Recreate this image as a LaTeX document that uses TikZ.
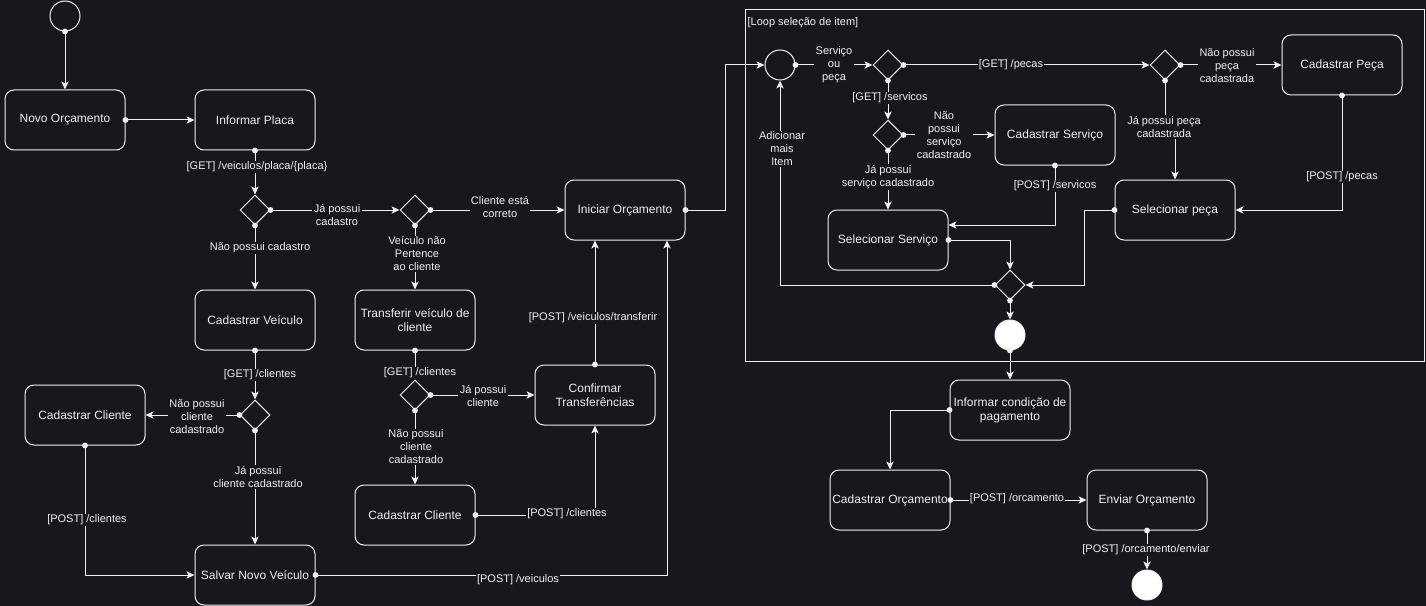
\documentclass[tikz,border=0pt]{standalone}
\usepackage{fontspec}
\setmainfont{Liberation Sans}
\usetikzlibrary{shapes.geometric,arrows.meta,calc}
\definecolor{bg}{RGB}{24,23,29}
\definecolor{fg}{RGB}{240,240,240}
\begin{document}
\begin{tikzpicture}[x=0.75pt,y=-0.75pt,
 box/.style={draw=fg, line width=0.75pt, rounded corners=6.75pt, minimum width=90pt, minimum height=45pt, align=center, text=fg, font=\fontsize{9}{10.5}\selectfont, inner sep=1pt, fill=bg},
 dec/.style={diamond, draw=fg, line width=0.75pt, minimum width=22.5pt, minimum height=22.5pt, inner sep=0pt, fill=bg},
 startc/.style={circle, draw=fg, line width=0.75pt, minimum size=22.5pt, inner sep=0pt, fill=bg},
 endc/.style={circle, draw=fg, line width=0.75pt, fill=white, minimum size=22.5pt, inner sep=0pt},
 lbl/.style={fill=bg, text=fg, font=\fontsize{8.25}{9.75}\selectfont, align=center, inner sep=1pt},
 arr/.style={draw=fg, line width=0.75pt, -{Stealth[length=6pt,width=5.5pt,inset=1.5pt]}},
 ln/.style={draw=fg, line width=0.75pt}
]
\fill[bg] (0,0) rectangle (1426,606);
\useasboundingbox (0,0) rectangle (1426,606);

% loop frame
\draw[ln] (745,10) rectangle (1424,361);
\node[anchor=west, text=fg, font=\fontsize{8.25}{9.75}\selectfont, inner sep=1pt] (looplbl) at (746,23) {[Loop seleção de item]};

% nodes
\node[startc] (s0) at (65,16) {};
\node[box] (novo) at (65,120) {Novo Orçamento};
\node[box] (placa) at (255,120) {Informar Placa};
\node[dec] (d1) at (255,210) {};
\node[box] (cadv) at (255,320) {Cadastrar Veículo};
\node[dec] (dcli) at (255,415) {};
\node[box] (cadc1) at (85,415) {Cadastrar Cliente};
\node[box] (salvar) at (255,575) {Salvar Novo Veículo};
\node[dec] (d2) at (415,210) {};
\node[box] (transf) at (415,320) {Transferir veículo de\\cliente};
\node[dec] (d3) at (415,395) {};
\node[box] (cadc2) at (415,515) {Cadastrar Cliente};
\node[box] (conf) at (595,395) {Confirmar\\Transferências};
\node[box] (inic) at (625,210) {Iniciar Orçamento};
\node[startc] (lc) at (780,65) {};
\node[dec] (d4) at (888,65) {};
\node[dec] (d5) at (888,135) {};
\node[box] (cserv) at (1055,135) {Cadastrar Serviço};
\node[box] (sserv) at (888,240) {Selecionar Serviço};
\node[dec] (dj) at (1010,285) {};
\node[endc] (le) at (1010,335) {};
\node[dec] (d6) at (1165,65) {};
\node[box] (cpeca) at (1342,65) {Cadastrar Peça};
\node[box] (speca) at (1175,210) {Selecionar peça};
\node[box] (icond) at (1010,410) {Informar condição de\\pagamento};
\node[box] (corc) at (890,500) {Cadastrar Orçamento};
\node[box] (enviar) at (1147,500) {Enviar Orçamento};
\node[endc] (fim) at (1147,585) {};

% edges
\draw[arr] (s0.south) -- (novo.north);
\draw[arr] (novo.east) -- (placa.west);
\draw[arr] (placa.south) -- (d1.north);
\draw[arr] (d1.east) -- (d2.west);
\draw[arr] (d1.south) -- (cadv.north);
\draw[arr] (d2.east) -- (inic.west);
\draw[arr] (d2.south) -- (transf.north);
\draw[arr] (cadv.south) -- (dcli.north);
\draw[arr] (dcli.west) -- (cadc1.east);
\draw[arr] (dcli.south) -- (salvar.north);
\draw[arr] (cadc1.south) |- (salvar.west);
\draw[arr] (salvar.east) -| ($(inic.south)+(42,0)$);
\draw[arr] (transf.south) -- (d3.north);
\draw[arr] (d3.east) -- (conf.west);
\draw[arr] (d3.south) -- (cadc2.north);
\draw[arr] (cadc2.east) -| (conf.south);
\draw[arr] (conf.north) -- (conf.north |- inic.south);
\draw[arr] (inic.east) -- ++(40,0) |- (lc.west);
\draw[arr] (lc.east) -- (d4.west);
\draw[arr] (d4.east) -- (d6.west);
\draw[arr] (d4.south) -- (d5.north);
\draw[arr] (d5.east) -- (cserv.west);
\draw[arr] (d5.south) -- (sserv.north);
\draw[arr] (cserv.south) |- ($(sserv.east)+(0,-15)$);
\draw[arr] (sserv.east) -| (dj.north);
\draw[arr] (dj.west) -| (lc.south);
\draw[arr] (speca.west) -- ++(-30,0) |- (dj.east);
\draw[arr] (d6.east) -- (cpeca.west);
\draw[arr] (d6.south) -- ++(0,45) -| (speca.north);
\draw[arr] (cpeca.south) |- (speca.east);
\draw[arr] (dj.south) -- (le.north);
\draw[arr] (le.south) -- (icond.north);
\draw[arr] (icond.west) -| (corc.north);
\draw[arr] (corc.east) -- (enviar.west);
\draw[arr] (enviar.south) -- (fim.north);

% source dots
\foreach \p in {s0.south, novo.east, placa.south, d1.east, d1.south, d2.east, d2.south, cadv.south, dcli.west, dcli.south, cadc1.south, salvar.east, transf.south, d3.east, d3.south, cadc2.east, conf.north, inic.east, lc.east, d4.east, d4.south, d5.east, d5.south, cserv.south, sserv.east, dj.west, speca.west, d6.east, d6.south, cpeca.south, dj.south, le.south, icond.west, corc.east, enviar.south}
  \fill[fg] (\p) circle (2.2pt);

% labels
\node[lbl] (l1) at (257,167) {[GET] /veiculos/placa/\{placa\}};
\node[lbl] (l2) at (337,215) {Já possui\\cadastro};
\node[lbl] (l3) at (260,248) {Não possui cadastro};
\node[lbl] (l4) at (500,207) {Cliente está\\correto};
\node[lbl] (l5) at (417,254) {Veículo não\\Pertence\\ao cliente};
\node[lbl] (l6) at (260,375) {[GET] /clientes};
\node[lbl] (l7) at (197,417) {Não possui\\cliente\\cadastrado};
\node[lbl] (l8) at (258,477) {Já possui\\cliente cadastrado};
\node[lbl] (l9) at (87,520) {[POST] /clientes};
\node[lbl] (l10) at (518,580) {[POST] /veiculos};
\node[lbl] (l11) at (420,373) {[GET] /clientes};
\node[lbl] (l12) at (483,396) {Já possui\\cliente};
\node[lbl] (l13) at (416,447) {Não possui\\cliente\\cadastrado};
\node[lbl] (l14) at (567,514) {[POST] /clientes};
\node[lbl] (l15) at (593,318) {[POST] /veiculos/transferir};
\node[lbl] (l16) at (834,65) {Serviço\\ou\\peça};
\node[lbl] (l17) at (1011,65) {[GET] /pecas};
\node[lbl] (l18) at (890,98) {[GET] /servicos};
\node[lbl] (l19) at (944,135) {Não\\possui\\serviço\\cadastrado};
\node[lbl] (l20) at (888,177) {Já possui\\serviço cadastrado};
\node[lbl] (l21) at (1055,186) {[POST] /servicos};
\node[lbl] (l22) at (782,149) {Adicionar\\mais\\Item};
\node[lbl] (l23) at (1227,66) {Não possui\\peça\\cadastrada};
\node[lbl] (l24) at (1164,127) {Já possui peça\\cadastrada};
\node[lbl] (l25) at (1342,177) {[POST] /pecas};
\node[lbl] (l26) at (1017,499) {[POST] /orcamento};
\node[lbl] (l27) at (1146,550) {[POST] /orcamento/enviar};
\end{tikzpicture}
\end{document}
